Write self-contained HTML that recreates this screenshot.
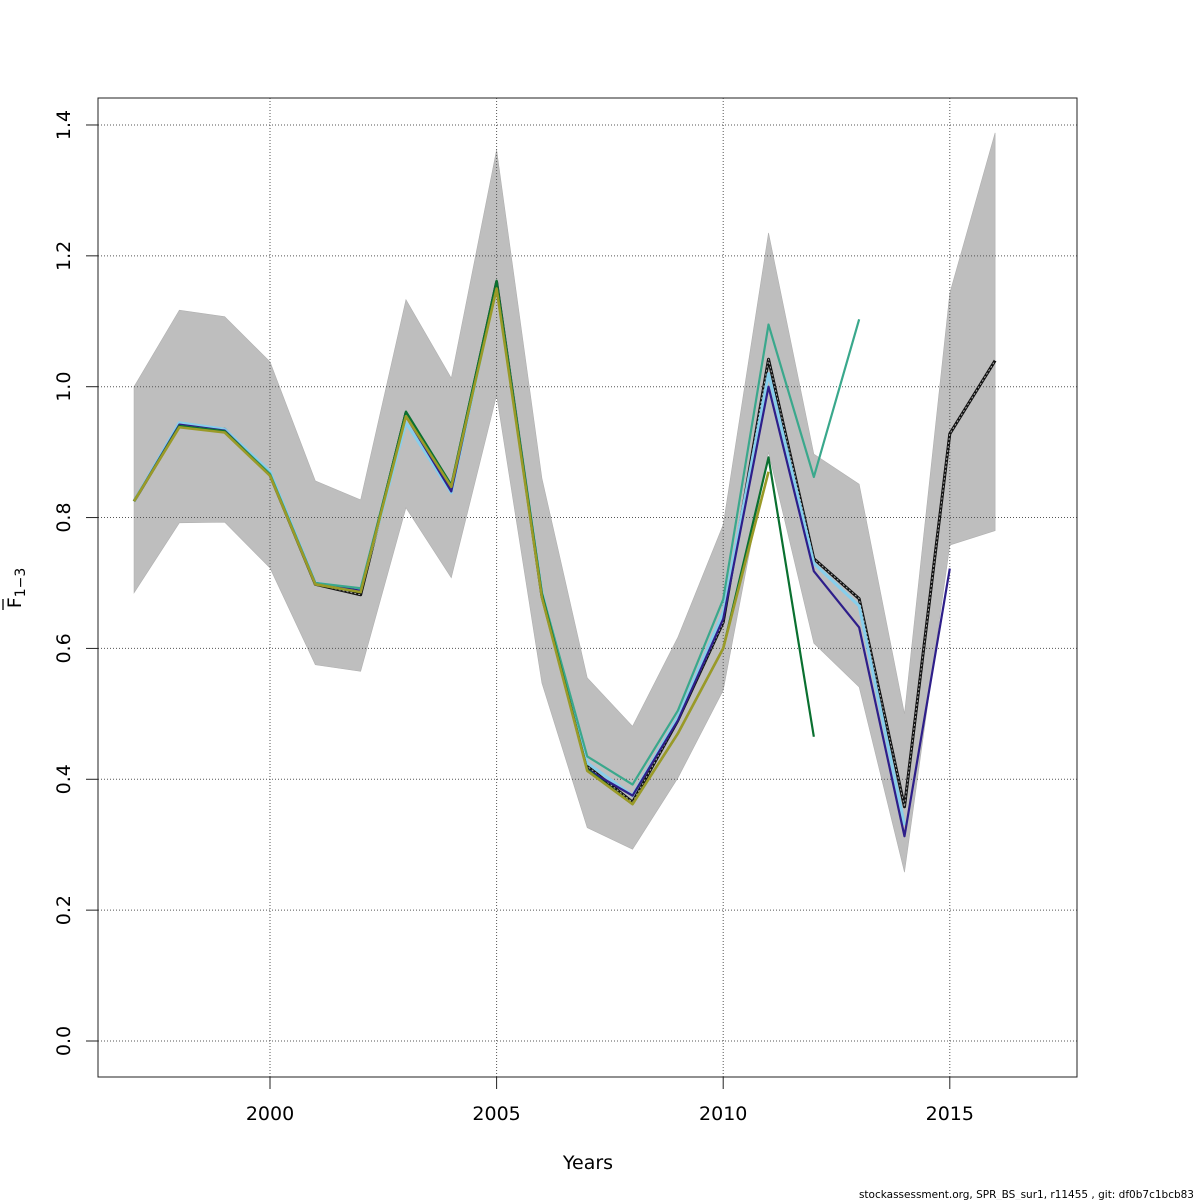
<!DOCTYPE html>
<html><head><meta charset="utf-8"><style>
html,body{margin:0;padding:0;background:#fff;}
svg{display:block;font-family:"DejaVu Sans","Liberation Sans",sans-serif;}
</style></head><body>
<svg id="chart" width="1200" height="1200" viewBox="0 0 1200 1200" xmlns="http://www.w3.org/2000/svg">
<rect width="1200" height="1200" fill="#fff"/>
<g id="band"></g>
<g id="grid"></g>
<g id="lines"></g>
<g id="axes"></g>
<text x="588" y="1169" font-size="19" text-anchor="middle">Years</text>
<g transform="translate(21,588) rotate(-90)">
<text x="0" y="0" font-size="19" text-anchor="middle">F<tspan font-size="14" dy="4">1−3</tspan></text>
<line x1="-22" x2="-11" y1="-18" y2="-18" stroke="#000" stroke-width="1.3"/>
</g>
<text x="1194" y="1198" font-size="10.5" text-anchor="end">stockassessment.org, SPR_BS_sur1, r11455 , git: df0b7c1bcb83</text>
</svg>
<script>
const years=[1997,1998,1999,2000,2001,2002,2003,2004,2005,2006,2007,2008,2009,2010,2011,2012,2013,2014,2015,2016];
const bandLow=[0.685,0.792,0.793,0.723,0.575,0.565,0.815,0.708,0.987,0.547,0.326,0.293,0.402,0.536,0.90,0.608,0.541,0.258,0.758,0.78];
const bandHigh=[1.0,1.117,1.107,1.038,0.856,0.827,1.133,1.013,1.362,0.86,0.555,0.481,0.617,0.789,1.235,0.897,0.851,0.50,1.143,1.388];
const base=[0.825,0.94,0.935,0.865,0.698,0.682,0.96,0.845,1.16,0.68,0.42,0.365,0.49,0.64,1.042,0.737,0.676,0.358,0.928,1.04];
const ret1=[0.825,0.945,0.935,0.87,0.70,0.69,0.945,0.838,1.155,0.685,0.425,0.375,0.495,0.655,1.02,0.73,0.665,0.33];
const ret2=[0.825,0.942,0.933,0.866,0.70,0.688,0.955,0.84,1.158,0.683,0.415,0.375,0.49,0.645,1.0,0.718,0.632,0.313,0.722];
const ret3=[0.825,0.94,0.932,0.867,0.70,0.692,0.958,0.848,1.158,0.685,0.435,0.392,0.505,0.675,1.095,0.862,1.103];
const ret4=[0.825,0.94,0.932,0.865,0.698,0.686,0.962,0.85,1.162,0.683,0.415,0.362,0.47,0.60,0.892,0.465];
const ret5=[0.825,0.938,0.93,0.864,0.698,0.686,0.955,0.847,1.15,0.678,0.413,0.362,0.47,0.60,0.87];
const xTicks=[2000,2005,2010,2015];
const yTicks=[0,0.2,0.4,0.6,0.8,1.0,1.2,1.4];
const yTickLabels=["0.0","0.2","0.4","0.6","0.8","1.0","1.2","1.4"];

const NS="http://www.w3.org/2000/svg";
const L=98,R=1077,T=98,B=1077;
function xs(y){return 270+(y-2000)*45.32;}
function ys(v){return 1041-v*654.3;}
function mk(tag,attrs,parent){const e=document.createElementNS(NS,tag);for(const k in attrs)e.setAttribute(k,attrs[k]);parent.appendChild(e);return e;}

const band=document.getElementById('band');
let pts=years.map((y,i)=>xs(y)+','+ys(bandHigh[i]));
for(let i=years.length-1;i>=0;i--)pts.push(xs(years[i])+','+ys(bandLow[i]));
const poly=mk('polygon',{points:pts.join(' '),fill:'#bebebe',stroke:'#b0b0b0','stroke-width':0.6},band);



const grid=document.getElementById('grid');
xTicks.forEach(t=>{const l=mk('line',{x1:xs(t),x2:xs(t),y1:T,y2:B,stroke:'#555','stroke-width':1,'stroke-dasharray':'1,2'},grid);

});
yTicks.forEach(t=>{const l=mk('line',{x1:L,x2:R,y1:ys(t),y2:ys(t),stroke:'#555','stroke-width':1,'stroke-dasharray':'1,2'},grid);

});

const lines=document.getElementById('lines');
function series(vals,color,w,name,dash){
 const p=vals.map((v,i)=>xs(years[i])+','+ys(v)).join(' ');
 const e=mk('polyline',{points:p,fill:'none',stroke:color,'stroke-width':w,'stroke-linejoin':'round'},lines);
 if(dash)e.setAttribute('stroke-dasharray',dash);
 
 
}
series(base,'#111',3,'base-line');
series(base,'#aaa',1,'base-line-dots','2,2');
series(ret1,'#87ceeb',3,'retro-1-line');
series(ret2,'#2e1e8a',2.2,'retro-2-line');
series(ret3,'#3aa88c',2.2,'retro-3-line');
series(ret4,'#0a7030',2.2,'retro-4-line');
series(ret5,'#9a9a28',2.6,'retro-5-line');

const axes=document.getElementById('axes');
const box=mk('rect',{x:L,y:T,width:R-L,height:B-T,fill:'none',stroke:'#222','stroke-width':1},axes);


xTicks.forEach(t=>{mk('line',{x1:xs(t),x2:xs(t),y1:B,y2:B+12,stroke:'#222'},axes);
 const tx=mk('text',{x:xs(t),y:1120,'font-size':19,'text-anchor':'middle'},axes);tx.textContent=t;
 
 });
yTicks.forEach((t,i)=>{mk('line',{x1:L-12,x2:L,y1:ys(t),y2:ys(t),stroke:'#222'},axes);
 const tx=mk('text',{x:0,y:0,'font-size':19,'text-anchor':'middle',transform:'translate(70,'+ys(t)+') rotate(-90)'},axes);tx.textContent=yTickLabels[i];
 
 });
</script>
</body></html>
